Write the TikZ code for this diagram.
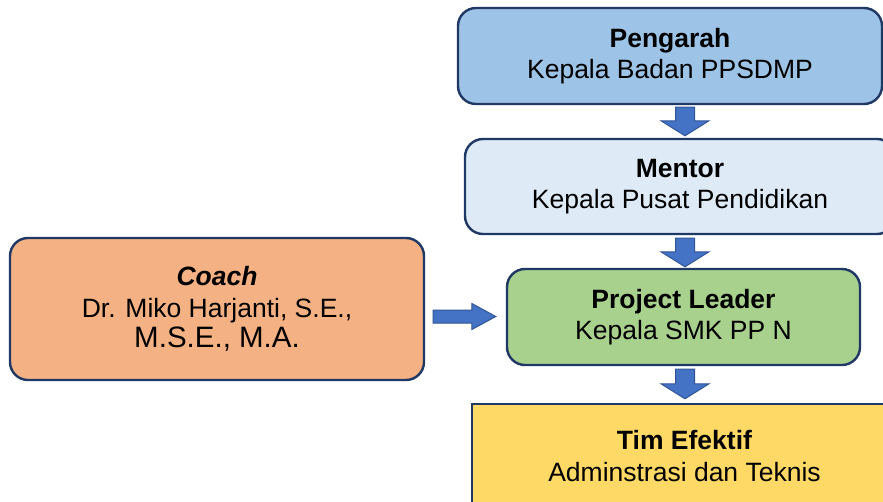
\documentclass[tikz,border=0pt]{standalone}
\usepackage{fontspec}
\setmainfont{Liberation Sans}
\usetikzlibrary{calc}
\definecolor{navy}{HTML}{1F3864}
\definecolor{cPeng}{HTML}{9DC3E6}
\definecolor{cMent}{HTML}{DEEBF7}
\definecolor{cPL}{HTML}{A9D18E}
\definecolor{cTim}{HTML}{FFD966}
\definecolor{cCoach}{HTML}{F4B183}
\definecolor{arrFill}{HTML}{4472C4}
\definecolor{arrLine}{HTML}{2F5597}
\tikzset{
  box/.style={draw=navy, line width=2.4pt, rounded corners=18pt, align=center,
    inner sep=0pt, font=\fontsize{26.5}{31.5}\selectfont},
  sqbox/.style={box, rounded corners=0pt},
  barrow/.style={fill=arrFill, draw=arrLine, line width=1pt, line join=miter},
}
% vertical block arrow: #1 top point, #2 tip point
\newcommand{\varrowblock}[2]{%
  \draw[barrow] ($(#1)+(-9.5,0)$) -- ($(#1)+(9.5,0)$) -- ($(#2)+(9.5,-15)$)
    -- ($(#2)+(24,-15)$) -- (#2) -- ($(#2)+(-24,-15)$) -- ($(#2)+(-9.5,-15)$) -- cycle;}
% horizontal block arrow: #1 tail point, #2 tip point
\newcommand{\harrowblock}[2]{%
  \draw[barrow] ($(#1)+(0,-6.5)$) -- ($(#2)+(-24,-6.5)$) -- ($(#2)+(-24,-13)$)
    -- (#2) -- ($(#2)+(-24,13)$) -- ($(#2)+(-24,6.5)$) -- ($(#1)+(0,6.5)$) -- cycle;}
\begin{document}
\begin{tikzpicture}[x=1pt,y=-1pt]
\useasboundingbox (0,0) rectangle (883,501);
\clip (0,0) rectangle (883,501);
\node[box, fill=cPeng, minimum width=424pt, minimum height=96pt] (peng) at (670,56)
  {\textbf{Pengarah}\\Kepala Badan PPSDMP};
\node[box, fill=cMent, minimum width=430pt, minimum height=95pt] (ment) at (680,186.5)
  {\textbf{Mentor}\\Kepala Pusat Pendidikan};
\node[box, fill=cPL, minimum width=353pt, minimum height=96pt] (pl) at (683.5,317)
  {\textbf{Project Leader}\\Kepala SMK PP N};
\node[sqbox, fill=cTim, minimum width=425pt, minimum height=104pt] (tim) at (684.5,456)
  {\textbf{Tim Efektif}\\Adminstrasi dan Teknis};
\node[box, fill=cCoach, minimum width=414pt, minimum height=142pt] (coach) at (217,309)
  {\textbf{\textit{Coach}}\\Dr. Miko Harjanti, S.E.,\\[-1pt]{\fontsize{29.5}{33}\selectfont M.S.E., M.A.}};
\coordinate (ax) at (685,0);
\coordinate (a1t) at ($(peng.south -| ax)+(0,2)$);
\coordinate (a1b) at ($(ment.north -| ax)+(0,-2)$);
\varrowblock{a1t}{a1b}
\coordinate (a2t) at ($(ment.south -| ax)+(0,3)$);
\coordinate (a2b) at ($(pl.north -| ax)+(0,-1)$);
\varrowblock{a2t}{a2b}
\coordinate (a3t) at ($(pl.south -| ax)+(0,3)$);
\coordinate (a3b) at ($(tim.north -| ax)+(0,-4)$);
\varrowblock{a3t}{a3b}
\coordinate (ay) at (0,316.5);
\coordinate (a4t) at ($(coach.east |- ay)+(8,0)$);
\coordinate (a4b) at ($(pl.west |- ay)+(-10,0)$);
\harrowblock{a4t}{a4b}
\end{tikzpicture}
\end{document}
